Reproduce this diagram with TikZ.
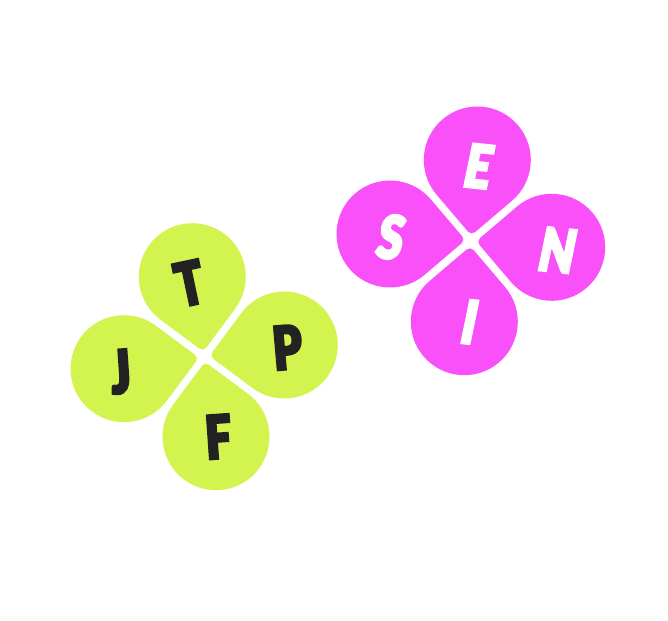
\documentclass[tikz,border=0pt]{standalone}
\usepackage{fontspec}
\newfontfamily\petalfont{Lato Black}[FakeStretch=0.76,FakeBold=4]
\newfontfamily\petalslant{Lato Black}[FakeStretch=0.76,FakeSlant=0.1,FakeBold=4]
\usepackage{tikz}
\definecolor{limepetal}{HTML}{D3F34E}
\definecolor{pinkpetal}{HTML}{F950F9}
\definecolor{darkletter}{HTML}{222222}
\tikzset{
    petal/.pic={
        \path[pic actions] (0,-53.5) [rounded corners=5pt] -- (53.5,-53.5) [sharp corners] -- (53.5,0)
            arc[start angle=0,end angle=270,radius=53.5] -- cycle;
    },
    darktext/.style={inner sep=0pt,text=darkletter,font=\petalfont\fontsize{60}{60}\selectfont},
    whitetext/.style={inner sep=0pt,text=white,rotate=-6,font=\petalslant\fontsize{60}{60}\selectfont}
}
\begin{document}
\begin{tikzpicture}[x=1pt,y=1pt]
    \useasboundingbox (0,0) rectangle (668,620);
    % green flower
    \pic[fill=limepetal,rotate=-36.6] (petalT) at (192.3,343.3) {petal};
    \pic[fill=limepetal,rotate=-126.6] (petalP) at (284.3,275) {petal};
    \pic[fill=limepetal,rotate=143.4] (petalF) at (216,183.3) {petal};
    \pic[fill=limepetal,rotate=53.4] (petalJ) at (124,251.3) {petal};
    \node (T) [darktext,rotate=12] at (189.5,336.8) {T};
    \node (P) [darktext,rotate=5] at (287.3,272.7) {P};
    \node (F) [darktext,rotate=4] at (218.3,183.3) {F};
    \node (J) [darktext,rotate=4] at (120.7,248.3) {J};
    % pink flower
    \pic[fill=pinkpetal,rotate=-49.6] (petalE) at (477.3,460) {petal};
    \pic[fill=pinkpetal,rotate=-139.6] (petalN) at (551.7,372.7) {petal};
    \pic[fill=pinkpetal,rotate=130.4] (petalI) at (464.3,298.3) {petal};
    \pic[fill=pinkpetal,rotate=40.4] (petalS) at (390,386) {petal};
    \node (E) [whitetext] at (476.5,454) {E};
    \node (N) [whitetext] at (555.7,370) {N};
    \node (I) [whitetext] at (467.7,298.3) {I};
    \node (S) [whitetext] at (389,383.3) {S};
\end{tikzpicture}
\end{document}
